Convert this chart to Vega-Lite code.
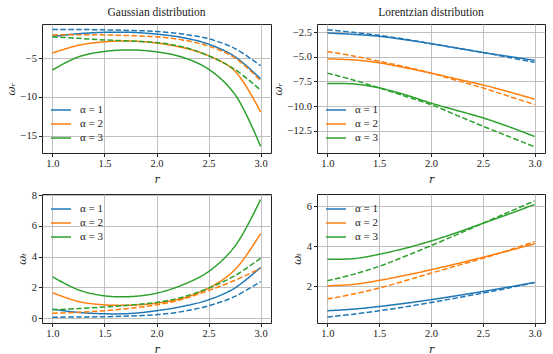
{
"$schema": "https://vega.github.io/schema/vega-lite/v6.json",
"padding": {"left": 4, "top": 6, "right": 5, "bottom": 4},
"bounds": "flush",
"columns": 2,
"spacing": {"row": 41, "column": 46},
"config": {
  "font": "Liberation Serif",
  "view": {"stroke": "#222222", "strokeWidth": 1},
  "axis": {"grid": true, "gridColor": "#b0b0b0", "gridWidth": 0.8, "domain": false, "tickColor": "#222222", "tickSize": 3.5, "labelPadding": 2, "labelFont": "Liberation Serif", "labelFontSize": 10.5, "labelColor": "#222222", "titleFont": "DejaVu Serif", "titleFontSize": 11, "titleFontWeight": "normal", "titleColor": "#222222", "titleFontStyle": "italic"},
  "legend": {"symbolType": "stroke", "symbolSize": 400, "symbolStrokeWidth": 1.5, "labelFont": "Liberation Serif", "labelFontSize": 11, "labelOffset": 8, "clipHeight": 14, "rowPadding": 0, "padding": 0, "labelColor": "#222222"},
  "title": {"font": "Liberation Serif", "fontSize": 11.5, "fontWeight": "normal", "offset": 6, "color": "#222222"},
  "line": {"strokeWidth": 1.5, "interpolate": "catmull-rom"}
},
"resolve": {"scale": {"color": "independent", "strokeDash": "independent", "x": "independent", "y": "independent"}, "legend": {"color": "independent"}},
"datasets": {
"gr": [
{"a":"α = 1","s":"solid","r":1,"v":-2.15},{"a":"α = 1","s":"solid","r":1.25,"v":-1.8},{"a":"α = 1","s":"solid","r":1.5,"v":-1.62},{"a":"α = 1","s":"solid","r":1.75,"v":-1.62},{"a":"α = 1","s":"solid","r":2,"v":-1.85},{"a":"α = 1","s":"solid","r":2.25,"v":-2.3},{"a":"α = 1","s":"solid","r":2.5,"v":-3.15},{"a":"α = 1","s":"solid","r":2.75,"v":-4.75},{"a":"α = 1","s":"solid","r":3,"v":-7.65},
{"a":"α = 1","s":"dashed","r":1,"v":-1.25},{"a":"α = 1","s":"dashed","r":1.25,"v":-1.25},{"a":"α = 1","s":"dashed","r":1.5,"v":-1.3},{"a":"α = 1","s":"dashed","r":1.75,"v":-1.38},{"a":"α = 1","s":"dashed","r":2,"v":-1.5},{"a":"α = 1","s":"dashed","r":2.25,"v":-1.85},{"a":"α = 1","s":"dashed","r":2.5,"v":-2.45},{"a":"α = 1","s":"dashed","r":2.75,"v":-3.7},{"a":"α = 1","s":"dashed","r":3,"v":-5.95},
{"a":"α = 2","s":"solid","r":1,"v":-4.3},{"a":"α = 2","s":"solid","r":1.25,"v":-3.3},{"a":"α = 2","s":"solid","r":1.5,"v":-2.85},{"a":"α = 2","s":"solid","r":1.75,"v":-2.75},{"a":"α = 2","s":"solid","r":2,"v":-3.0},{"a":"α = 2","s":"solid","r":2.25,"v":-3.6},{"a":"α = 2","s":"solid","r":2.5,"v":-4.65},{"a":"α = 2","s":"solid","r":2.75,"v":-6.6},{"a":"α = 2","s":"solid","r":3,"v":-11.95},
{"a":"α = 2","s":"dashed","r":1,"v":-1.95},{"a":"α = 2","s":"dashed","r":1.25,"v":-1.92},{"a":"α = 2","s":"dashed","r":1.5,"v":-1.95},{"a":"α = 2","s":"dashed","r":1.75,"v":-2.05},{"a":"α = 2","s":"dashed","r":2,"v":-2.2},{"a":"α = 2","s":"dashed","r":2.25,"v":-2.6},{"a":"α = 2","s":"dashed","r":2.5,"v":-3.4},{"a":"α = 2","s":"dashed","r":2.75,"v":-4.9},{"a":"α = 2","s":"dashed","r":3,"v":-7.9},
{"a":"α = 3","s":"solid","r":1,"v":-6.5},{"a":"α = 3","s":"solid","r":1.25,"v":-4.8},{"a":"α = 3","s":"solid","r":1.5,"v":-4.1},{"a":"α = 3","s":"solid","r":1.75,"v":-3.9},{"a":"α = 3","s":"solid","r":2,"v":-4.15},{"a":"α = 3","s":"solid","r":2.25,"v":-4.85},{"a":"α = 3","s":"solid","r":2.5,"v":-6.4},{"a":"α = 3","s":"solid","r":2.75,"v":-9.6},{"a":"α = 3","s":"solid","r":3,"v":-16.4},
{"a":"α = 3","s":"dashed","r":1,"v":-2.2},{"a":"α = 3","s":"dashed","r":1.25,"v":-2.4},{"a":"α = 3","s":"dashed","r":1.5,"v":-2.6},{"a":"α = 3","s":"dashed","r":1.75,"v":-2.75},{"a":"α = 3","s":"dashed","r":2,"v":-2.95},{"a":"α = 3","s":"dashed","r":2.25,"v":-3.5},{"a":"α = 3","s":"dashed","r":2.5,"v":-4.65},{"a":"α = 3","s":"dashed","r":2.75,"v":-6.4},{"a":"α = 3","s":"dashed","r":3,"v":-9.1}
],
"lr": [
{"a":"α = 1","s":"solid","r":1,"v":-2.57},{"a":"α = 1","s":"solid","r":1.25,"v":-2.7},{"a":"α = 1","s":"solid","r":1.5,"v":-2.9},{"a":"α = 1","s":"solid","r":1.75,"v":-3.25},{"a":"α = 1","s":"solid","r":2,"v":-3.65},{"a":"α = 1","s":"solid","r":2.25,"v":-4.1},{"a":"α = 1","s":"solid","r":2.5,"v":-4.55},{"a":"α = 1","s":"solid","r":2.75,"v":-4.95},{"a":"α = 1","s":"solid","r":3,"v":-5.35},
{"a":"α = 1","s":"dashed","r":1,"v":-2.23},{"a":"α = 1","s":"dashed","r":1.25,"v":-2.5},{"a":"α = 1","s":"dashed","r":1.5,"v":-2.8},{"a":"α = 1","s":"dashed","r":1.75,"v":-3.2},{"a":"α = 1","s":"dashed","r":2,"v":-3.65},{"a":"α = 1","s":"dashed","r":2.25,"v":-4.1},{"a":"α = 1","s":"dashed","r":2.5,"v":-4.55},{"a":"α = 1","s":"dashed","r":2.75,"v":-5.05},{"a":"α = 1","s":"dashed","r":3,"v":-5.55},
{"a":"α = 2","s":"solid","r":1,"v":-5.2},{"a":"α = 2","s":"solid","r":1.25,"v":-5.3},{"a":"α = 2","s":"solid","r":1.5,"v":-5.6},{"a":"α = 2","s":"solid","r":1.75,"v":-6.1},{"a":"α = 2","s":"solid","r":2,"v":-6.65},{"a":"α = 2","s":"solid","r":2.25,"v":-7.25},{"a":"α = 2","s":"solid","r":2.5,"v":-7.85},{"a":"α = 2","s":"solid","r":2.75,"v":-8.55},{"a":"α = 2","s":"solid","r":3,"v":-9.3},
{"a":"α = 2","s":"dashed","r":1,"v":-4.45},{"a":"α = 2","s":"dashed","r":1.25,"v":-4.9},{"a":"α = 2","s":"dashed","r":1.5,"v":-5.45},{"a":"α = 2","s":"dashed","r":1.75,"v":-6.0},{"a":"α = 2","s":"dashed","r":2,"v":-6.65},{"a":"α = 2","s":"dashed","r":2.25,"v":-7.4},{"a":"α = 2","s":"dashed","r":2.5,"v":-8.15},{"a":"α = 2","s":"dashed","r":2.75,"v":-9.0},{"a":"α = 2","s":"dashed","r":3,"v":-9.85},
{"a":"α = 3","s":"solid","r":1,"v":-7.72},{"a":"α = 3","s":"solid","r":1.25,"v":-7.75},{"a":"α = 3","s":"solid","r":1.5,"v":-8.15},{"a":"α = 3","s":"solid","r":1.75,"v":-8.85},{"a":"α = 3","s":"solid","r":2,"v":-9.7},{"a":"α = 3","s":"solid","r":2.25,"v":-10.45},{"a":"α = 3","s":"solid","r":2.5,"v":-11.2},{"a":"α = 3","s":"solid","r":2.75,"v":-12.1},{"a":"α = 3","s":"solid","r":3,"v":-13.1},
{"a":"α = 3","s":"dashed","r":1,"v":-6.65},{"a":"α = 3","s":"dashed","r":1.25,"v":-7.35},{"a":"α = 3","s":"dashed","r":1.5,"v":-8.15},{"a":"α = 3","s":"dashed","r":1.75,"v":-9.0},{"a":"α = 3","s":"dashed","r":2,"v":-9.85},{"a":"α = 3","s":"dashed","r":2.25,"v":-10.95},{"a":"α = 3","s":"dashed","r":2.5,"v":-12.05},{"a":"α = 3","s":"dashed","r":2.75,"v":-13.1},{"a":"α = 3","s":"dashed","r":3,"v":-14.15}
],
"gt": [
{"a":"α = 1","s":"solid","r":1,"v":0.58},{"a":"α = 1","s":"solid","r":1.25,"v":0.37},{"a":"α = 1","s":"solid","r":1.5,"v":0.28},{"a":"α = 1","s":"solid","r":1.75,"v":0.3},{"a":"α = 1","s":"solid","r":2,"v":0.48},{"a":"α = 1","s":"solid","r":2.25,"v":0.76},{"a":"α = 1","s":"solid","r":2.5,"v":1.19},{"a":"α = 1","s":"solid","r":2.75,"v":1.95},{"a":"α = 1","s":"solid","r":3,"v":3.3},
{"a":"α = 1","s":"dashed","r":1,"v":0.06},{"a":"α = 1","s":"dashed","r":1.25,"v":0.07},{"a":"α = 1","s":"dashed","r":1.5,"v":0.09},{"a":"α = 1","s":"dashed","r":1.75,"v":0.14},{"a":"α = 1","s":"dashed","r":2,"v":0.22},{"a":"α = 1","s":"dashed","r":2.25,"v":0.43},{"a":"α = 1","s":"dashed","r":2.5,"v":0.8},{"a":"α = 1","s":"dashed","r":2.75,"v":1.4},{"a":"α = 1","s":"dashed","r":3,"v":2.38},
{"a":"α = 2","s":"solid","r":1,"v":1.66},{"a":"α = 2","s":"solid","r":1.25,"v":1.08},{"a":"α = 2","s":"solid","r":1.5,"v":0.86},{"a":"α = 2","s":"solid","r":1.75,"v":0.84},{"a":"α = 2","s":"solid","r":2,"v":0.97},{"a":"α = 2","s":"solid","r":2.25,"v":1.3},{"a":"α = 2","s":"solid","r":2.5,"v":1.95},{"a":"α = 2","s":"solid","r":2.75,"v":3.13},{"a":"α = 2","s":"solid","r":3,"v":5.5},
{"a":"α = 2","s":"dashed","r":1,"v":0.32},{"a":"α = 2","s":"dashed","r":1.25,"v":0.38},{"a":"α = 2","s":"dashed","r":1.5,"v":0.48},{"a":"α = 2","s":"dashed","r":1.75,"v":0.64},{"a":"α = 2","s":"dashed","r":2,"v":0.86},{"a":"α = 2","s":"dashed","r":2.25,"v":1.23},{"a":"α = 2","s":"dashed","r":2.5,"v":1.8},{"a":"α = 2","s":"dashed","r":2.75,"v":2.45},{"a":"α = 2","s":"dashed","r":3,"v":3.24},
{"a":"α = 3","s":"solid","r":1,"v":2.7},{"a":"α = 3","s":"solid","r":1.25,"v":1.84},{"a":"α = 3","s":"solid","r":1.5,"v":1.45},{"a":"α = 3","s":"solid","r":1.75,"v":1.4},{"a":"α = 3","s":"solid","r":2,"v":1.62},{"a":"α = 3","s":"solid","r":2.25,"v":2.16},{"a":"α = 3","s":"solid","r":2.5,"v":3.03},{"a":"α = 3","s":"solid","r":2.75,"v":4.65},{"a":"α = 3","s":"solid","r":3,"v":7.72},
{"a":"α = 3","s":"dashed","r":1,"v":0.54},{"a":"α = 3","s":"dashed","r":1.25,"v":0.62},{"a":"α = 3","s":"dashed","r":1.5,"v":0.72},{"a":"α = 3","s":"dashed","r":1.75,"v":0.85},{"a":"α = 3","s":"dashed","r":2,"v":1.02},{"a":"α = 3","s":"dashed","r":2.25,"v":1.36},{"a":"α = 3","s":"dashed","r":2.5,"v":1.95},{"a":"α = 3","s":"dashed","r":2.75,"v":2.75},{"a":"α = 3","s":"dashed","r":3,"v":3.9}
],
"lt": [
{"a":"α = 1","s":"solid","r":1,"v":0.79},{"a":"α = 1","s":"solid","r":1.25,"v":0.87},{"a":"α = 1","s":"solid","r":1.5,"v":1.0},{"a":"α = 1","s":"solid","r":1.75,"v":1.16},{"a":"α = 1","s":"solid","r":2,"v":1.34},{"a":"α = 1","s":"solid","r":2.25,"v":1.54},{"a":"α = 1","s":"solid","r":2.5,"v":1.75},{"a":"α = 1","s":"solid","r":2.75,"v":1.97},{"a":"α = 1","s":"solid","r":3,"v":2.2},
{"a":"α = 1","s":"dashed","r":1,"v":0.48},{"a":"α = 1","s":"dashed","r":1.25,"v":0.62},{"a":"α = 1","s":"dashed","r":1.5,"v":0.79},{"a":"α = 1","s":"dashed","r":1.75,"v":0.98},{"a":"α = 1","s":"dashed","r":2,"v":1.2},{"a":"α = 1","s":"dashed","r":2.25,"v":1.43},{"a":"α = 1","s":"dashed","r":2.5,"v":1.67},{"a":"α = 1","s":"dashed","r":2.75,"v":1.92},{"a":"α = 1","s":"dashed","r":3,"v":2.2},
{"a":"α = 2","s":"solid","r":1,"v":2.03},{"a":"α = 2","s":"solid","r":1.25,"v":2.1},{"a":"α = 2","s":"solid","r":1.5,"v":2.3},{"a":"α = 2","s":"solid","r":1.75,"v":2.55},{"a":"α = 2","s":"solid","r":2,"v":2.83},{"a":"α = 2","s":"solid","r":2.25,"v":3.13},{"a":"α = 2","s":"solid","r":2.5,"v":3.45},{"a":"α = 2","s":"solid","r":2.75,"v":3.78},{"a":"α = 2","s":"solid","r":3,"v":4.12},
{"a":"α = 2","s":"dashed","r":1,"v":1.37},{"a":"α = 2","s":"dashed","r":1.25,"v":1.62},{"a":"α = 2","s":"dashed","r":1.5,"v":1.92},{"a":"α = 2","s":"dashed","r":1.75,"v":2.28},{"a":"α = 2","s":"dashed","r":2,"v":2.66},{"a":"α = 2","s":"dashed","r":2.25,"v":3.03},{"a":"α = 2","s":"dashed","r":2.5,"v":3.4},{"a":"α = 2","s":"dashed","r":2.75,"v":3.8},{"a":"α = 2","s":"dashed","r":3,"v":4.23},
{"a":"α = 3","s":"solid","r":1,"v":3.36},{"a":"α = 3","s":"solid","r":1.25,"v":3.38},{"a":"α = 3","s":"solid","r":1.5,"v":3.6},{"a":"α = 3","s":"solid","r":1.75,"v":3.9},{"a":"α = 3","s":"solid","r":2,"v":4.26},{"a":"α = 3","s":"solid","r":2.25,"v":4.68},{"a":"α = 3","s":"solid","r":2.5,"v":5.14},{"a":"α = 3","s":"solid","r":2.75,"v":5.6},{"a":"α = 3","s":"solid","r":3,"v":6.08},
{"a":"α = 3","s":"dashed","r":1,"v":2.28},{"a":"α = 3","s":"dashed","r":1.25,"v":2.6},{"a":"α = 3","s":"dashed","r":1.5,"v":3.0},{"a":"α = 3","s":"dashed","r":1.75,"v":3.5},{"a":"α = 3","s":"dashed","r":2,"v":4.03},{"a":"α = 3","s":"dashed","r":2.25,"v":4.58},{"a":"α = 3","s":"dashed","r":2.5,"v":5.14},{"a":"α = 3","s":"dashed","r":2.75,"v":5.7},{"a":"α = 3","s":"dashed","r":3,"v":6.26}
]
},
"concat": [
{
 "width": 229, "height": 129,
 "title": {"text": "Gaussian distribution"},
 "data": {"name": "gr"},
 "mark": {"type": "line"},
 "encoding": {
  "x": {"field": "r", "type": "quantitative", "scale": {"domain": [0.9, 3.1], "nice": false, "zero": false}, "axis": {"values": [1, 1.5, 2, 2.5, 3], "format": ".1f", "title": "r"}},
  "y": {"field": "v", "type": "quantitative", "scale": {"domain": [-17.26, -0.54], "nice": false, "zero": false}, "axis": {"values": [-15, -10, -5], "title": "ωᵣ"}},
  "color": {"field": "a", "type": "nominal", "scale": {"domain": ["α = 1", "α = 2", "α = 3"], "range": ["#1f77b4", "#ff7f0e", "#2ca02c"]}, "legend": {"title": null, "orient": "bottom-left", "offset": 8}},
  "strokeDash": {"field": "s", "type": "nominal", "scale": {"domain": ["solid", "dashed"], "range": [[1, 0], [5.5, 2.4]]}, "legend": null}
 }
},
{
 "width": 228, "height": 129,
 "title": {"text": "Lorentzian distribution"},
 "data": {"name": "lr"},
 "mark": {"type": "line"},
 "encoding": {
  "x": {"field": "r", "type": "quantitative", "scale": {"domain": [0.9, 3.1], "nice": false, "zero": false}, "axis": {"values": [1, 1.5, 2, 2.5, 3], "format": ".1f", "title": "r"}},
  "y": {"field": "v", "type": "quantitative", "scale": {"domain": [-14.78, -1.65], "nice": false, "zero": false}, "axis": {"values": [-12.5, -10, -7.5, -5, -2.5], "format": ".1f", "title": "ωᵣ"}},
  "color": {"field": "a", "type": "nominal", "scale": {"domain": ["α = 1", "α = 2", "α = 3"], "range": ["#1f77b4", "#ff7f0e", "#2ca02c"]}, "legend": {"title": null, "orient": "bottom-left", "offset": 8}},
  "strokeDash": {"field": "s", "type": "nominal", "scale": {"domain": ["solid", "dashed"], "range": [[1, 0], [5.5, 2.4]]}, "legend": null}
 }
},
{
 "width": 229, "height": 129,
 "data": {"name": "gt"},
 "mark": {"type": "line"},
 "encoding": {
  "x": {"field": "r", "type": "quantitative", "scale": {"domain": [0.9, 3.1], "nice": false, "zero": false}, "axis": {"values": [1, 1.5, 2, 2.5, 3], "format": ".1f", "title": "r"}},
  "y": {"field": "v", "type": "quantitative", "scale": {"domain": [-0.32, 8.08], "nice": false, "zero": false}, "axis": {"values": [0, 2, 4, 6, 8], "title": "ωₜ"}},
  "color": {"field": "a", "type": "nominal", "scale": {"domain": ["α = 1", "α = 2", "α = 3"], "range": ["#1f77b4", "#ff7f0e", "#2ca02c"]}, "legend": {"title": null, "orient": "top-left", "offset": 8}},
  "strokeDash": {"field": "s", "type": "nominal", "scale": {"domain": ["solid", "dashed"], "range": [[1, 0], [5.5, 2.4]]}, "legend": null}
 }
},
{
 "width": 228, "height": 129,
 "data": {"name": "lt"},
 "mark": {"type": "line"},
 "encoding": {
  "x": {"field": "r", "type": "quantitative", "scale": {"domain": [0.9, 3.1], "nice": false, "zero": false}, "axis": {"values": [1, 1.5, 2, 2.5, 3], "format": ".1f", "title": "r"}},
  "y": {"field": "v", "type": "quantitative", "scale": {"domain": [0.18, 6.6], "nice": false, "zero": false}, "axis": {"values": [2, 4, 6], "title": "ωₜ"}},
  "color": {"field": "a", "type": "nominal", "scale": {"domain": ["α = 1", "α = 2", "α = 3"], "range": ["#1f77b4", "#ff7f0e", "#2ca02c"]}, "legend": {"title": null, "orient": "top-left", "offset": 8}},
  "strokeDash": {"field": "s", "type": "nominal", "scale": {"domain": ["solid", "dashed"], "range": [[1, 0], [5.5, 2.4]]}, "legend": null}
 }
}
]
}
